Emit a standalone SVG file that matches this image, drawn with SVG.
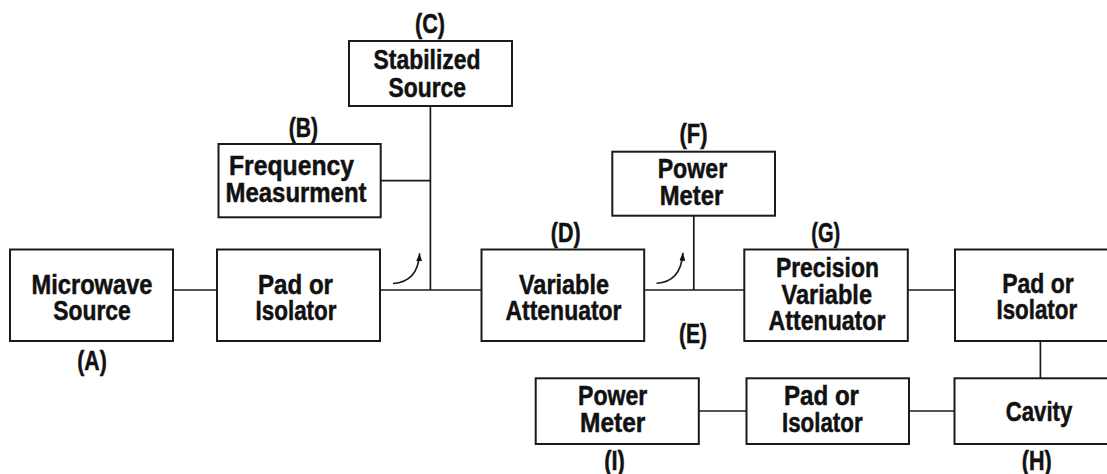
<svg xmlns="http://www.w3.org/2000/svg" width="1107" height="474" viewBox="0 0 1107 474">
<style>
.box{fill:#fff;stroke:#1a1a1a;stroke-width:2}
.ln{fill:none;stroke:#1a1a1a;stroke-width:1.7}
.arc{fill:none;stroke:#1a1a1a;stroke-width:1.6}
text{font-family:"Liberation Sans Narrow","Liberation Sans",Arial,sans-serif;font-weight:bold;font-size:28px;fill:#111;stroke:#111;stroke-width:0.5;text-anchor:middle}
</style>
<defs>
<marker id="ah" markerUnits="userSpaceOnUse" viewBox="0 0 8 6" markerWidth="8" markerHeight="6" refX="8" refY="3" orient="auto">
<path d="M0,0 L8,3 L0,6 z" fill="#111"/>
</marker>
</defs>
<rect width="1107" height="474" fill="#fff"/>
<g id="connectors">
<line class="ln" x1="173" y1="290" x2="217" y2="290"/>
<line class="ln" x1="380" y1="290" x2="481.5" y2="290"/>
<line class="ln" x1="430.4" y1="106" x2="430.4" y2="290"/>
<line class="ln" x1="380.7" y1="180.7" x2="430.4" y2="180.7"/>
<line class="ln" x1="644.2" y1="290" x2="744.3" y2="290"/>
<line class="ln" x1="693.8" y1="215.7" x2="693.8" y2="290"/>
<line class="ln" x1="907.8" y1="290" x2="955" y2="290"/>
<line class="ln" x1="1040.4" y1="341" x2="1040.4" y2="378.3"/>
<line class="ln" x1="698.8" y1="411" x2="746.5" y2="411"/>
<line class="ln" x1="909" y1="411" x2="954.5" y2="411"/>
<path class="arc" d="M393,283.5 Q418,282 419.6,253.3" marker-end="url(#ah)"/>
<path class="arc" d="M656.5,283.3 Q681,282 682.9,252.7" marker-end="url(#ah)"/>
</g>
<g id="nodeA">
<rect class="box" x="10" y="249.5" width="163" height="91.5"/>
<text x="92" y="293.5" textLength="121" lengthAdjust="spacingAndGlyphs">Microwave</text>
<text x="92" y="319.5" textLength="77.5" lengthAdjust="spacingAndGlyphs">Source</text>
<text x="92" y="370" textLength="29.5" lengthAdjust="spacingAndGlyphs">(A)</text>
</g>
<g id="pad1">
<rect class="box" x="217" y="249.5" width="163" height="91.5"/>
<text x="295.5" y="293.5" textLength="75" lengthAdjust="spacingAndGlyphs">Pad or</text>
<text x="296" y="319.5" textLength="81" lengthAdjust="spacingAndGlyphs">Isolator</text>
</g>
<g id="nodeB">
<rect class="box" x="218.5" y="144" width="162.2" height="73.3"/>
<text x="291.5" y="175" textLength="125" lengthAdjust="spacingAndGlyphs">Frequency</text>
<text x="296" y="201.7" textLength="141" lengthAdjust="spacingAndGlyphs">Measurment</text>
<text x="303.3" y="137" textLength="29.3" lengthAdjust="spacingAndGlyphs">(B)</text>
</g>
<g id="nodeC">
<rect class="box" x="349" y="41" width="163" height="65"/>
<text x="427" y="69.3" textLength="107" lengthAdjust="spacingAndGlyphs">Stabilized</text>
<text x="427.3" y="96.7" textLength="77.5" lengthAdjust="spacingAndGlyphs">Source</text>
<text x="430" y="33" textLength="30" lengthAdjust="spacingAndGlyphs">(C)</text>
</g>
<g id="nodeD">
<rect class="box" x="481.5" y="249.5" width="162.7" height="91.5"/>
<text x="564" y="293.5" textLength="90" lengthAdjust="spacingAndGlyphs">Variable</text>
<text x="563.5" y="320" textLength="116" lengthAdjust="spacingAndGlyphs">Attenuator</text>
<text x="565.7" y="242" textLength="29.7" lengthAdjust="spacingAndGlyphs">(D)</text>
</g>
<g id="nodeE">
<text x="693" y="342.5" textLength="28" lengthAdjust="spacingAndGlyphs">(E)</text>
</g>
<g id="nodeF">
<rect class="box" x="612.3" y="151.7" width="162.7" height="64"/>
<text x="692.4" y="178.3" textLength="69.5" lengthAdjust="spacingAndGlyphs">Power</text>
<text x="691.5" y="205" textLength="63.5" lengthAdjust="spacingAndGlyphs">Meter</text>
<text x="693.5" y="143" textLength="28" lengthAdjust="spacingAndGlyphs">(F)</text>
</g>
<g id="nodeG">
<rect class="box" x="744.3" y="249.5" width="163.5" height="91.5"/>
<text x="827.4" y="277" textLength="103" lengthAdjust="spacingAndGlyphs">Precision</text>
<text x="826.8" y="303.5" textLength="90.4" lengthAdjust="spacingAndGlyphs">Variable</text>
<text x="827" y="330" textLength="116.8" lengthAdjust="spacingAndGlyphs">Attenuator</text>
<text x="825.7" y="242" textLength="29" lengthAdjust="spacingAndGlyphs">(G)</text>
</g>
<g id="pad2">
<rect class="box" x="955" y="249.5" width="163" height="91.5"/>
<text x="1037.9" y="293.3" textLength="71.5" lengthAdjust="spacingAndGlyphs">Pad or</text>
<text x="1036.8" y="319.3" textLength="80.7" lengthAdjust="spacingAndGlyphs">Isolator</text>
</g>
<g id="nodeH">
<rect class="box" x="954.5" y="378.3" width="163.5" height="65.7"/>
<text x="1039" y="420.5" textLength="66.6" lengthAdjust="spacingAndGlyphs">Cavity</text>
<text x="1036.7" y="470" textLength="29.9" lengthAdjust="spacingAndGlyphs">(H)</text>
</g>
<g id="pad3">
<rect class="box" x="746.5" y="378.3" width="162.5" height="65.7"/>
<text x="821.5" y="405" textLength="75" lengthAdjust="spacingAndGlyphs">Pad or</text>
<text x="822.3" y="431.7" textLength="80.6" lengthAdjust="spacingAndGlyphs">Isolator</text>
</g>
<g id="nodeI">
<rect class="box" x="535.7" y="378.3" width="163.1" height="65.7"/>
<text x="612.7" y="405" textLength="69.3" lengthAdjust="spacingAndGlyphs">Power</text>
<text x="612.7" y="431.7" textLength="65.4" lengthAdjust="spacingAndGlyphs">Meter</text>
<text x="614.5" y="469.5" textLength="20.6" lengthAdjust="spacingAndGlyphs">(I)</text>
</g>
</svg>
